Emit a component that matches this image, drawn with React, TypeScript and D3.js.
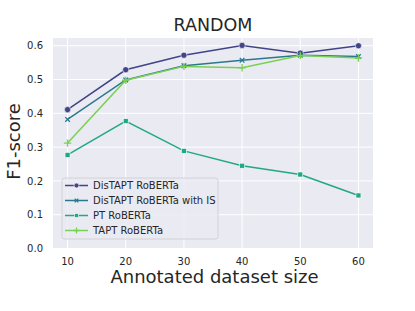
import React from 'react';
import * as d3 from 'd3';

const sizes = [10, 20, 30, 40, 50, 60];
const distapt = [0.411, 0.529, 0.572, 0.601, 0.578, 0.6];
const distaptIS = [0.382, 0.499, 0.541, 0.557, 0.572, 0.568];
const pt = [0.277, 0.377, 0.289, 0.245, 0.219, 0.157];
const tapt = [0.312, 0.498, 0.539, 0.535, 0.571, 0.564];
const seriesNames = ['DisTAPT RoBERTa', 'DisTAPT RoBERTa with IS', 'PT RoBERTa', 'TAPT RoBERTa'];
const xTicks = [10, 20, 30, 40, 50, 60];
const yTicks = [0.0, 0.1, 0.2, 0.3, 0.4, 0.5, 0.6];

const colors = ['#414487', '#2a788e', '#22a884', '#7ad151'];
const markers = ['circle', 'x', 'square', 'plus'];
const font = 'DejaVu Sans, sans-serif';

const Marker = ({ type, x, y, color, s = 1 }: { type: string; x: number; y: number; color: string; s?: number }) => {
  if (type === 'circle') return <circle cx={x} cy={y} r={3.1 * s} fill={color} stroke="#fff" strokeWidth={0.6} />;
  if (type === 'square')
    return <rect x={x - 2.5 * s} y={y - 2.5 * s} width={5 * s} height={5 * s} fill={color} stroke="#fff" strokeWidth={0.6} />;
  if (type === 'x') {
    const a = 2.3 * s;
    return <path d={`M${x - a},${y - a}L${x + a},${y + a}M${x - a},${y + a}L${x + a},${y - a}`} stroke={color} strokeWidth={1.3} />;
  }
  const b = 3.7 * s;
  return <path d={`M${x - b},${y}L${x + b},${y}M${x},${y - b}L${x},${y + b}`} stroke={color} strokeWidth={1.3} />;
};

export default function App() {
  const width = 415;
  const height = 311;
  const left = 53, right = 373, top = 38, bottom = 248.5;

  const x = d3.scaleLinear().domain([7.5, 62.5]).range([left, right]);
  const y = d3.scaleLinear().domain([0, 0.623]).range([bottom, top]);

  const series = [distapt, distaptIS, pt, tapt];
  const line = d3.line<number>().x((_, i) => x(sizes[i])).y((d) => y(d));

  return (
    <svg width={width} height={height} style={{ position: 'absolute', left: 0, top: 0 }}>
      <rect x={left} y={top} width={right - left} height={bottom - top} fill="#eaeaf2" />
      {xTicks.map((t) => (
        <line key={'gx' + t} x1={x(t)} x2={x(t)} y1={top} y2={bottom} stroke="#fff" strokeWidth={1} />
      ))}
      {yTicks.map((t) => (
        <line key={'gy' + t} x1={left} x2={right} y1={y(t)} y2={y(t)} stroke="#fff" strokeWidth={1} />
      ))}
      {xTicks.map((t) => (
        <text key={'tx' + t} x={x(t)} y={265} textAnchor="middle" fontSize={10} fontFamily={font} fill="#262626">
          {t}
        </text>
      ))}
      {yTicks.map((t) => (
        <text key={'ty' + t} x={43} y={y(t) + 3.6} textAnchor="end" fontSize={10} fontFamily={font} fill="#262626">
          {t.toFixed(1)}
        </text>
      ))}
      {series.map((s, k) => (
        <g key={'s' + k}>
          <path d={line(s) ?? ''} fill="none" stroke={colors[k]} strokeWidth={1.5} />
          {s.map((v, i) => (
            <Marker key={i} type={markers[k]} x={x(sizes[i])} y={y(v)} color={colors[k]} />
          ))}
        </g>
      ))}
      <text x={(left + right) / 2} y={31} textAnchor="middle" fontSize={17.5} fontFamily={font} fill="#262626">
        RANDOM
      </text>
      <text x={214.5} y={283} textAnchor="middle" fontSize={18} fontFamily={font} fill="#262626">
        Annotated dataset size
      </text>
      <text transform="translate(20,141.5) rotate(-90)" textAnchor="middle" fontSize={18} fontFamily={font} fill="#262626">
        F1-score
      </text>
      <g>
        <rect x={62} y={178} width={156} height={61} rx={2.5} fill="#eaeaf2" fillOpacity={0.8} stroke="#cccccc" strokeWidth={0.8} />
        {seriesNames.map((n, k) => {
          const ly = 185.5 + k * 15;
          return (
            <g key={'l' + k}>
              <line x1={65} x2={88} y1={ly} y2={ly} stroke={colors[k]} strokeWidth={1.5} />
              <Marker type={markers[k]} x={76.5} y={ly} color={colors[k]} s={0.8} />
              <text x={93} y={ly + 3.6} fontSize={10} fontFamily={font} fill="#262626">
                {n}
              </text>
            </g>
          );
        })}
      </g>
    </svg>
  );
}
